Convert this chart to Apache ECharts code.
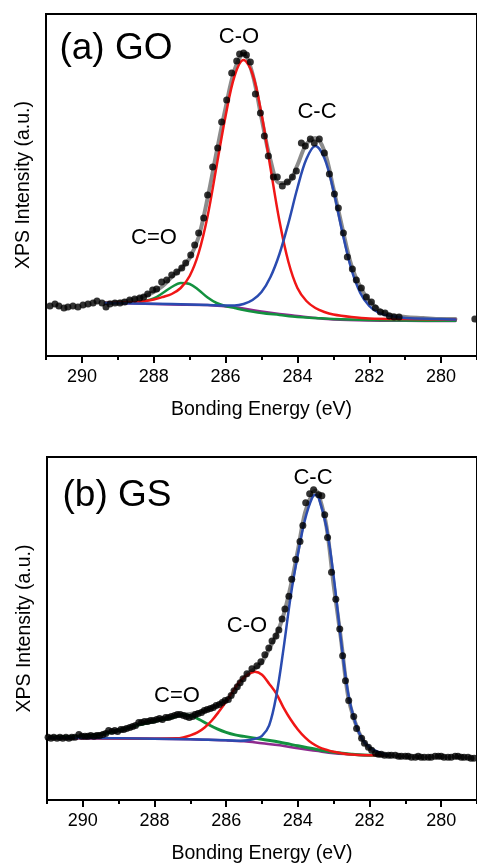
<!DOCTYPE html>
<html>
<head>
<meta charset="utf-8">
<script src="https://cdn.jsdelivr.net/npm/echarts@6/dist/echarts.min.js"></script>
<style>
html, body { margin: 0; padding: 0; background: #fff; }
#xps { width: 477px; height: 865px; }
</style>
</head>
<body>
<div id="xps"></div>
<script>
// tick positions (eV)
var majorTicks = [280, 282, 284, 286, 288, 290];
var minorTicks = [279, 281, 283, 285, 287, 289, 291];

// (a) GO  -- [binding energy eV, intensity a.u.]
var goDots = [[290.89,50],[290.75,52],[290.64,50],[290.50,48],[290.39,49],[290.25,50],[290.11,49],[289.97,51],[289.83,52],[289.69,53],[289.58,55],[289.44,53],[289.33,49],[289.22,52],[289.08,53],[288.94,53],[288.81,54],[288.67,56],[288.53,57],[288.39,58],[288.28,59],[288.17,62],[288.03,66],[287.92,67],[287.78,74],[287.64,76],[287.50,81],[287.36,84],[287.22,88],[287.11,93],[286.97,101],[286.86,111],[286.75,123],[286.61,138],[286.50,161],[286.36,189],[286.22,208],[286.11,234],[285.97,256],[285.83,283],[285.69,295],[285.61,302],[285.50,303],[285.42,301],[285.31,294],[285.17,262],[285.03,243],[284.92,220],[284.81,200],[284.67,179],[284.56,179],[284.42,170],[284.28,174],[284.14,179],[284.03,185],[283.89,213],[283.78,210],[283.64,217],[283.53,213],[283.39,217],[283.25,203],[283.11,182],[282.97,162],[282.86,148],[282.72,123],[282.61,99],[282.47,87],[282.36,76],[282.22,68],[282.08,59],[281.94,54],[281.83,48],[281.69,44],[281.56,43],[281.44,40],[281.31,39],[281.17,39],[279.06,37]];
var goEnvelope = [[289.35,53],[289.0,54],[288.75,55],[288.5,57],[288.25,60],[288.0,64],[287.75,70],[287.5,79],[287.25,87],[287.0,98],[286.75,119],[286.5,158],[286.25,204],[286.0,248],[285.75,286],[285.5,302],[285.25,282],[285.0,238],[284.75,196],[284.5,173],[284.25,174],[284.0,191],[283.75,212],[283.5,218],[283.25,205],[283.0,168],[282.75,128],[282.5,91],[282.25,69],[282.0,55],[281.75,47],[281.5,42],[281.0,39],[280.5,38],[280.0,37],[279.6,37]];
var goBackground = [[289.35,53],[288.5,52.5],[287.5,51.5],[286.5,51],[286.0,49.5],[285.5,47.5],[285.0,44.5],[284.5,42],[284.0,40],[283.5,38],[283.0,36.5],[282.0,35.5],[281.0,35.2],[279.6,35]];
var goCdO = [[289.35,53],[288.75,53.3],[288.5,54],[288.25,55],[288.0,57.5],[287.75,63],[287.5,69],[287.25,73],[287.0,72],[286.75,66],[286.5,58.5],[286.25,53],[286.0,50],[285.75,48],[285.5,46],[285.0,43],[284.5,41],[284.0,39],[283.5,38],[283.0,37],[282.0,36],[281.0,35.5],[279.6,35.2]];
var goCO = [[289.35,53],[289.0,53.5],[288.5,54],[288.25,55],[288.0,56.5],[287.75,59],[287.5,62],[287.25,68],[287.0,80],[286.75,103],[286.5,140],[286.25,190],[286.0,240],[285.75,280],[285.5,296],[285.25,282],[285.0,242],[284.75,188],[284.5,135],[284.25,94],[284.0,68],[283.75,55],[283.5,48],[283.25,44],[283.0,41.5],[282.5,39],[282.0,37.5],[281.0,37],[279.6,36.5]];
var goCC = [[289.35,53],[288.5,52.5],[287.5,52],[286.5,51],[286.0,50.5],[285.75,50.5],[285.5,52],[285.25,56],[285.0,64],[284.75,79],[284.5,102],[284.25,133],[284.0,168],[283.75,197],[283.5,210],[283.25,198],[283.0,166],[282.75,124],[282.5,87],[282.25,63],[282.0,50],[281.75,43.5],[281.5,40.5],[281.0,38],[280.0,37],[279.6,36.5]];

// (b) GS
var gsDots = [[290.97,63],[290.89,62],[290.81,63],[290.72,62],[290.64,63],[290.56,62],[290.47,63],[290.39,62],[290.31,63],[290.22,63],[290.11,66],[290.03,64],[289.94,64],[289.86,64],[289.78,65],[289.69,64],[289.61,65],[289.53,65],[289.44,66],[289.36,67],[289.28,70],[289.19,69],[289.11,70],[289.03,69],[288.94,71],[288.86,71],[288.78,72],[288.69,73],[288.61,74],[288.53,75],[288.44,78],[288.36,78],[288.28,79],[288.19,79],[288.11,80],[288.03,80],[287.94,81],[287.86,82],[287.78,81],[287.69,83],[287.61,83],[287.53,84],[287.44,85],[287.36,86],[287.28,86],[287.19,85],[287.11,84],[287.03,83],[286.94,84],[286.86,86],[286.78,87],[286.69,88],[286.61,90],[286.53,91],[286.44,92],[286.36,93],[286.28,95],[286.19,96],[286.11,98],[286.03,100],[285.94,101],[285.86,105],[285.78,110],[285.69,114],[285.61,118],[285.53,122],[285.42,127],[285.28,132],[285.14,135],[285.03,139],[284.92,146],[284.81,153],[284.72,160],[284.61,165],[284.53,171],[284.44,182],[284.36,192],[284.25,205],[284.17,222],[284.06,242],[283.94,260],[283.86,276],[283.78,299],[283.67,308],[283.56,312],[283.42,307],[283.33,306],[283.25,287],[283.17,264],[283.06,229],[282.94,202],[282.83,172],[282.75,145],[282.67,120],[282.58,100],[282.44,84],[282.36,72],[282.22,62],[282.14,57],[282.03,53],[281.94,50],[281.83,47],[281.75,46],[281.67,46],[281.58,45],[281.47,45],[281.39,45],[281.28,45],[281.19,44],[281.11,44],[281.0,44],[280.92,44],[280.83,43],[280.72,43],[280.64,44],[280.56,43],[280.47,43],[280.36,43],[280.28,43],[280.17,44],[280.08,44],[280.0,44],[279.92,43],[279.81,43],[279.72,43],[279.61,44],[279.53,44],[279.44,43],[279.36,43],[279.25,43],[279.17,42],[279.08,42]];
var gsEnvelope = [[290.97,63],[290.0,64],[289.0,70],[288.5,75],[288.0,80],[287.5,84],[287.2,86],[287.0,86.5],[286.8,88],[286.6,90],[286.4,93],[286.2,96],[286.0,100],[285.8,107],[285.6,118],[285.4,127],[285.2,132],[285.0,139],[284.8,152],[284.6,166],[284.4,186],[284.2,215],[284.0,251],[283.8,289],[283.6,308],[283.5,311],[283.4,305],[283.2,275],[283.0,216],[282.8,163],[282.6,105],[282.4,78],[282.2,61],[282.0,52],[281.75,47],[281.5,45]];
var gsBackground = [[290.95,62.5],[289.0,62],[288.0,61.5],[287.0,61],[286.5,60.5],[286.0,60],[285.5,59],[285.0,57],[284.5,55],[284.0,52],[283.5,49.5],[283.0,47],[282.5,46],[282.0,45],[281.5,45]];
var gsCdO = [[290.95,63],[290.5,63.5],[290.0,64.5],[289.5,66],[289.0,70],[288.5,75],[288.0,79],[287.5,83],[287.25,85.5],[287.0,85],[286.75,81],[286.5,76],[286.25,71.5],[286.0,68],[285.75,65.5],[285.5,64],[285.0,61],[284.5,58],[284.0,54.5],[283.5,51],[283.0,48],[282.5,46],[282.0,45],[281.5,45]];
var gsCO = [[290.95,62.5],[288.0,61.5],[287.4,62],[287.2,63],[287.0,65],[286.8,68],[286.6,73],[286.4,80],[286.2,89],[286.0,99],[285.8,110],[285.6,120],[285.4,126],[285.2,129],[285.0,126],[284.8,117],[284.6,107],[284.4,93],[284.2,81],[284.0,71],[283.8,63],[283.6,57],[283.4,53],[283.2,50.5],[283.0,48.5],[282.6,46],[282.0,45],[281.5,45]];
var gsCC = [[290.95,62.5],[289.0,62],[288.0,61.5],[287.0,61],[286.0,60],[285.6,59.5],[285.4,60],[285.2,61.5],[285.0,64.5],[284.8,75],[284.6,105],[284.4,152],[284.2,205],[284.0,247],[283.8,282],[283.6,304],[283.5,307],[283.4,302],[283.2,274],[283.0,225],[282.8,162],[282.6,108],[282.4,78],[282.2,61],[282.0,53],[281.8,49],[281.5,45]];

var FONT = '"Liberation Sans", Arial, sans-serif';
var chart = echarts.init(document.getElementById('xps'));

function makeXAxes(gi) {
    return [
        {
            gridIndex: gi, type: 'value', min: 279, max: 291, inverse: true, position: 'bottom',
            name: 'Bonding Energy (eV)', nameLocation: 'middle', nameGap: 44,
            nameTextStyle: { fontFamily: FONT, fontSize: 19.5, color: '#000' },
            axisLine: { show: true, onZero: false, lineStyle: { color: '#000', width: 2 } },
            axisTick: { show: true, customValues: majorTicks, length: 7, lineStyle: { color: '#000', width: 2 } },
            axisLabel: { customValues: majorTicks, margin: 12, fontFamily: FONT, fontSize: 18, color: '#000' },
            splitLine: { show: false }
        },
        {
            gridIndex: gi, type: 'value', min: 279, max: 291, inverse: true, position: 'bottom',
            axisLine: { show: false, onZero: false },
            axisTick: { show: true, customValues: minorTicks, length: 4, lineStyle: { color: '#000', width: 2 } },
            axisLabel: { show: false },
            splitLine: { show: false }
        }
    ];
}

function makeYAxis(gi, top) {
    return {
        gridIndex: gi, type: 'value', min: 0, max: top,
        name: 'XPS Intensity (a.u.)', nameLocation: 'middle', nameGap: 12,
        nameTextStyle: { fontFamily: FONT, fontSize: 19.5, color: '#000' },
        axisLine: { show: true, onZero: false, lineStyle: { color: '#000', width: 2 } },
        axisTick: { show: false },
        axisLabel: { show: false },
        splitLine: { show: false }
    };
}

function curve(data, color, width, z, xi, yi) {
    return {
        type: 'line', data: data, xAxisIndex: xi, yAxisIndex: yi,
        smooth: 0.35, showSymbol: false, silent: true, z: z,
        lineStyle: { color: color, width: width, cap: 'round', join: 'round' }
    };
}

function dots(data, xi, yi) {
    return {
        type: 'scatter', data: data, xAxisIndex: xi, yAxisIndex: yi,
        symbol: 'circle', symbolSize: 7, silent: true, z: 10,
        itemStyle: { color: '#000' }
    };
}

function label(text, x, y, size) {
    return {
        type: 'text', x: x, y: y, silent: true, z: 100,
        style: { text: text, fontFamily: FONT, fontSize: size, fill: '#000', align: 'center', verticalAlign: 'middle' }
    };
}

var option = {
    animation: false,
    backgroundColor: '#fff',
    grid: [
        { left: 46, top: 14, right: -1, height: 342, show: true, borderColor: '#000', borderWidth: 2, backgroundColor: 'transparent' },
        { left: 47, top: 457, right: -1, height: 345, show: true, borderColor: '#000', borderWidth: 2, backgroundColor: 'transparent' }
    ],
    xAxis: makeXAxes(0).concat(makeXAxes(1)),
    yAxis: [makeYAxis(0, 342), makeYAxis(1, 345)],
    series: [
        curve(goEnvelope, '#8c8c8c', 4, 2, 0, 0),
        curve(goBackground, '#8e2a8e', 2.5, 3, 0, 0),
        curve(goCdO, '#13913f', 2.5, 4, 0, 0),
        curve(goCO, '#f01616', 2.5, 5, 0, 0),
        curve(goCC, '#2a4bb0', 2.5, 6, 0, 0),
        dots(goDots, 0, 0),

        curve(gsEnvelope, '#8c8c8c', 4, 2, 2, 1),
        curve(gsBackground, '#8e2a8e', 2.5, 3, 2, 1),
        curve(gsCdO, '#13913f', 3, 4, 2, 1),
        curve(gsCO, '#f01616', 2.5, 5, 2, 1),
        curve(gsCC, '#2a4bb0', 2.5, 6, 2, 1),
        dots(gsDots, 2, 1)
    ],
    graphic: [
        label('(a) GO', 116, 49, 37),
        label('C-O', 239, 37, 22),
        label('C-C', 317, 112, 22),
        label('C=O', 154, 238, 22),
        label('(b) GS', 117, 496, 37),
        label('C-C', 313, 478, 22),
        label('C-O', 247, 626, 22),
        label('C=O', 177, 696, 22)
    ]
};

chart.setOption(option);
</script>
</body>
</html>
